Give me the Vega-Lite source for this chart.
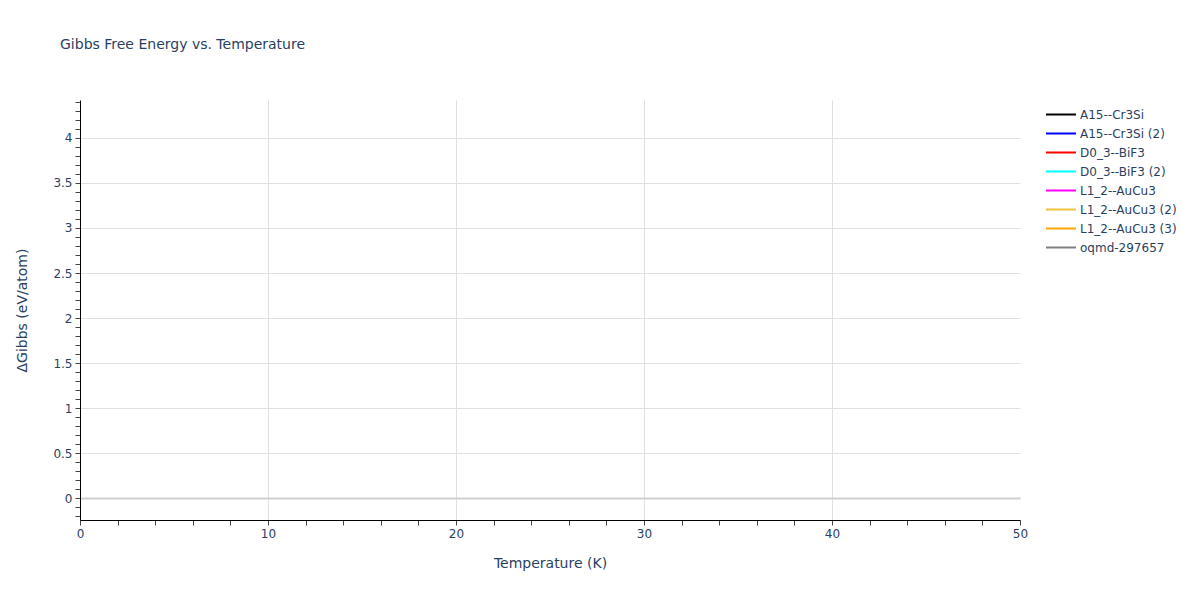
{
  "$schema": "https://vega.github.io/schema/vega-lite/v6.json",
  "width": 940,
  "height": 420,
  "autosize": {"type": "none"},
  "padding": {"left": 80, "top": 100, "right": 180, "bottom": 80},
  "background": "white",
  "title": {
    "text": "Gibbs Free Energy vs. Temperature",
    "anchor": "start",
    "frame": "group",
    "dx": -20,
    "offset": 44,
    "font": "DejaVu Sans",
    "fontSize": 14,
    "fontWeight": "normal",
    "color": "#2a3f5f"
  },
  "data": {
    "values": [
      {"Structure": "A15--Cr3Si", "Temperature": 0, "Gibbs": null},
      {"Structure": "A15--Cr3Si (2)", "Temperature": 0, "Gibbs": null},
      {"Structure": "D0_3--BiF3", "Temperature": 0, "Gibbs": null},
      {"Structure": "D0_3--BiF3 (2)", "Temperature": 0, "Gibbs": null},
      {"Structure": "L1_2--AuCu3", "Temperature": 0, "Gibbs": null},
      {"Structure": "L1_2--AuCu3 (2)", "Temperature": 0, "Gibbs": null},
      {"Structure": "L1_2--AuCu3 (3)", "Temperature": 0, "Gibbs": null},
      {"Structure": "oqmd-297657", "Temperature": 0, "Gibbs": null}
    ]
  },
  "mark": {"type": "line", "strokeWidth": 2},
  "encoding": {
    "x": {
      "field": "Temperature",
      "type": "quantitative",
      "scale": {"domain": [0, 50], "nice": false, "zero": false},
      "axis": {
        "values": [0, 2, 4, 6, 8, 10, 12, 14, 16, 18, 20, 22, 24, 26, 28, 30, 32, 34, 36, 38, 40, 42, 44, 46, 48, 50],
        "labelExpr": "datum.value % 10 === 0 ? datum.label : ''",
        "labelOverlap": false,
        "labelFlush": false,
        "labelFont": "DejaVu Sans",
        "labelFontSize": 12,
        "labelColor": "#2a3f5f",
        "labelPadding": 3,
        "grid": true,
        "gridColor": "#e0e0e0",
        "gridWidth": 1,
        "gridOpacity": {"condition": {"test": "datum.value % 10 !== 0 || datum.value === 0 || datum.value === 50", "value": 0}, "value": 1},
        "domainColor": "#000000",
        "domainWidth": 1,
        "tickColor": "#444444",
        "tickSize": 5,
        "title": "Temperature (K)",
        "titleFont": "DejaVu Sans",
        "titleFontSize": 14,
        "titleFontWeight": "normal",
        "titleColor": "#2a3f5f",
        "titleX": 470,
        "titleY": 43,
        "titleBaseline": "middle"
      }
    },
    "y": {
      "field": "Gibbs",
      "type": "quantitative",
      "scale": {"domain": [-0.244, 4.422], "nice": false, "zero": false},
      "axis": {
        "values": [-0.2, -0.1, 0, 0.1, 0.2, 0.3, 0.4, 0.5, 0.6, 0.7, 0.8, 0.9, 1, 1.1, 1.2, 1.3, 1.4, 1.5, 1.6, 1.7, 1.8, 1.9, 2, 2.1, 2.2, 2.3, 2.4, 2.5, 2.6, 2.7, 2.8, 2.9, 3, 3.1, 3.2, 3.3, 3.4, 3.5, 3.6, 3.7, 3.8, 3.9, 4, 4.1, 4.2, 4.3, 4.4],
        "format": "~g",
        "labelExpr": "abs(datum.value * 2 - round(datum.value * 2)) < 0.000001 ? datum.label : ''",
        "labelOverlap": false,
        "labelFlush": false,
        "labelFont": "DejaVu Sans",
        "labelFontSize": 12,
        "labelColor": "#2a3f5f",
        "labelPadding": 3,
        "grid": true,
        "gridColor": {"condition": {"test": "datum.value === 0", "value": "#cfcfcf"}, "value": "#e0e0e0"},
        "gridWidth": {"condition": {"test": "datum.value === 0", "value": 2}, "value": 1},
        "gridOpacity": {"condition": {"test": "abs(datum.value * 2 - round(datum.value * 2)) < 0.000001", "value": 1}, "value": 0},
        "domainColor": "#000000",
        "domainWidth": 1,
        "tickColor": "#444444",
        "tickSize": 5,
        "title": "ΔGibbs (eV/atom)",
        "titleFont": "DejaVu Sans",
        "titleFontSize": 14,
        "titleFontWeight": "normal",
        "titleColor": "#2a3f5f",
        "titleX": -58,
        "titleY": 210,
        "titleBaseline": "middle",
        "titleAlign": "center"
      }
    },
    "color": {
      "field": "Structure",
      "type": "nominal",
      "scale": {
        "domain": ["A15--Cr3Si", "A15--Cr3Si (2)", "D0_3--BiF3", "D0_3--BiF3 (2)", "L1_2--AuCu3", "L1_2--AuCu3 (2)", "L1_2--AuCu3 (3)", "oqmd-297657"],
        "range": ["#000000", "#0000ff", "#ff0000", "#00ffff", "#ff00ff", "#efc43d", "#ffa500", "#808080"]
      },
      "legend": {
        "orient": "none",
        "legendX": 965,
        "legendY": 7,
        "title": null,
        "symbolType": "stroke",
        "symbolSize": 900,
        "symbolStrokeWidth": 2,
        "clipHeight": 15,
        "rowPadding": 4,
        "labelOffset": 3,
        "labelFont": "DejaVu Sans",
        "labelFontSize": 12,
        "labelColor": "#2a3f5f",
        "labelLimit": 200
      }
    }
  },
  "config": {
    "view": {"stroke": null},
    "font": "DejaVu Sans"
  }
}
